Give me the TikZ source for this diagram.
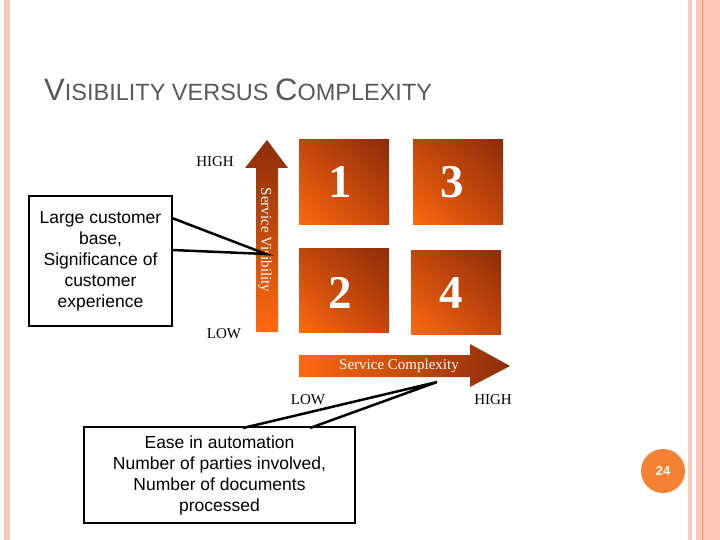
\documentclass[tikz,border=0pt]{standalone}
\usepackage{fontspec}
\setmainfont{Liberation Serif}
\newfontfamily\arialf{Liberation Sans}
\usetikzlibrary{shadings}
\begin{document}
\begin{tikzpicture}[x=1pt,y=-1pt,
  quad/.style={lower left=qbright, upper right=qdark, upper left=qmid, lower right=qmid},
  num/.style={text=white,font=\fontsize{47}{47}\selectfont\bfseries},
  lab/.style={font=\fontsize{15}{15}\selectfont},
  callout/.style={draw=black,line width=2.5pt,fill=white,align=center,font=\arialf\fontsize{17.5}{21}\selectfont},
  lead/.style={line width=2.5pt}]
\definecolor{qdark}{RGB}{140,45,10}
\definecolor{qbright}{RGB}{255,105,15}
\definecolor{qmid}{RGB}{195,70,12}
\definecolor{stripe}{RGB}{250,200,180}
\definecolor{stripedk}{RGB}{235,150,120}
\definecolor{pgorange}{RGB}{245,130,50}
\useasboundingbox (0,0) rectangle (720,540);
\fill[white] (0,0) rectangle (720,540);
% borders
\fill[stripe] (4,0) rectangle (10,540);
\fill[stripe] (688,0) rectangle (692,540);
\fill[stripe] (696,0) rectangle (720,540);
\draw[stripedk,line width=1pt] (702.5,0) -- (702.5,540);
% title
\node[anchor=base west,text=black!65,font=\arialf,inner sep=0pt] (title) at (44,101)
 {\fontsize{31}{31}\selectfont V\fontsize{23.5}{23.5}\selectfont ISIBILITY VERSUS \fontsize{31}{31}\selectfont C\fontsize{23.5}{23.5}\selectfont OMPLEXITY};
% quadrants
\shade[quad] (299,140) rectangle (389,225);
\shade[quad] (413,140) rectangle (503,225);
\shade[quad] (299,248) rectangle (389,332);
\shade[quad] (411,250) rectangle (501,334);
\node[num] (q1) at (340,182) {1};
\node[num] (q3) at (452,182) {3};
\node[num] (q2) at (340,293) {2};
\node[num] (q4) at (451,293) {4};
% vertical arrow
\shade[lower left=qbright, upper right=qdark, upper left=qdark, lower right=qbright]
 (256,332) -- (256,168) -- (245,168) -- (267,140) -- (288,168) -- (278,168) -- (278,332) -- cycle;
\node[rotate=-90,text=white,font=\fontsize{15}{15}\selectfont] (sv) at (265,240) {Service Visibility};
% horizontal arrow
\shade[left color=qbright,right color=qdark]
 (299,355) -- (470,355) -- (470,344) -- (510,366) -- (470,387) -- (470,377) -- (299,377) -- cycle;
\node[text=white,font=\fontsize{15}{15}\selectfont] (sc) at (399,366) {Service Complexity};
% axis labels
\node[lab] (vhigh) at (215,162) {HIGH};
\node[lab] (vlow) at (224,334) {LOW};
\node[lab] (hlow) at (308,400) {LOW};
\node[lab] (hhigh) at (493,400) {HIGH};
% callouts
\coordinate (tipv) at (266,254);
\coordinate (tiph) at (437,382);
\node[callout,minimum width=143pt,minimum height=130pt,inner sep=1pt] (lbox) at (100.5,261)
 {Large customer\\base,\\Significance of\\customer\\experience};
\draw[lead] (172,218) -- (tipv) -- (172,250);
\node[callout,minimum width=271pt,minimum height=96pt,inner sep=1pt] (bbox) at (219.5,475)
 {Ease in automation\\Number of parties involved,\\Number of documents\\processed};
\draw[lead] (243,428) -- (tiph) -- (310,428);
% page number
\fill[pgorange] (663,471) circle (22);
\node[text=white,font=\arialf\bfseries\fontsize{13}{13}\selectfont] (pg) at (663,471) {24};
\end{tikzpicture}
\end{document}
